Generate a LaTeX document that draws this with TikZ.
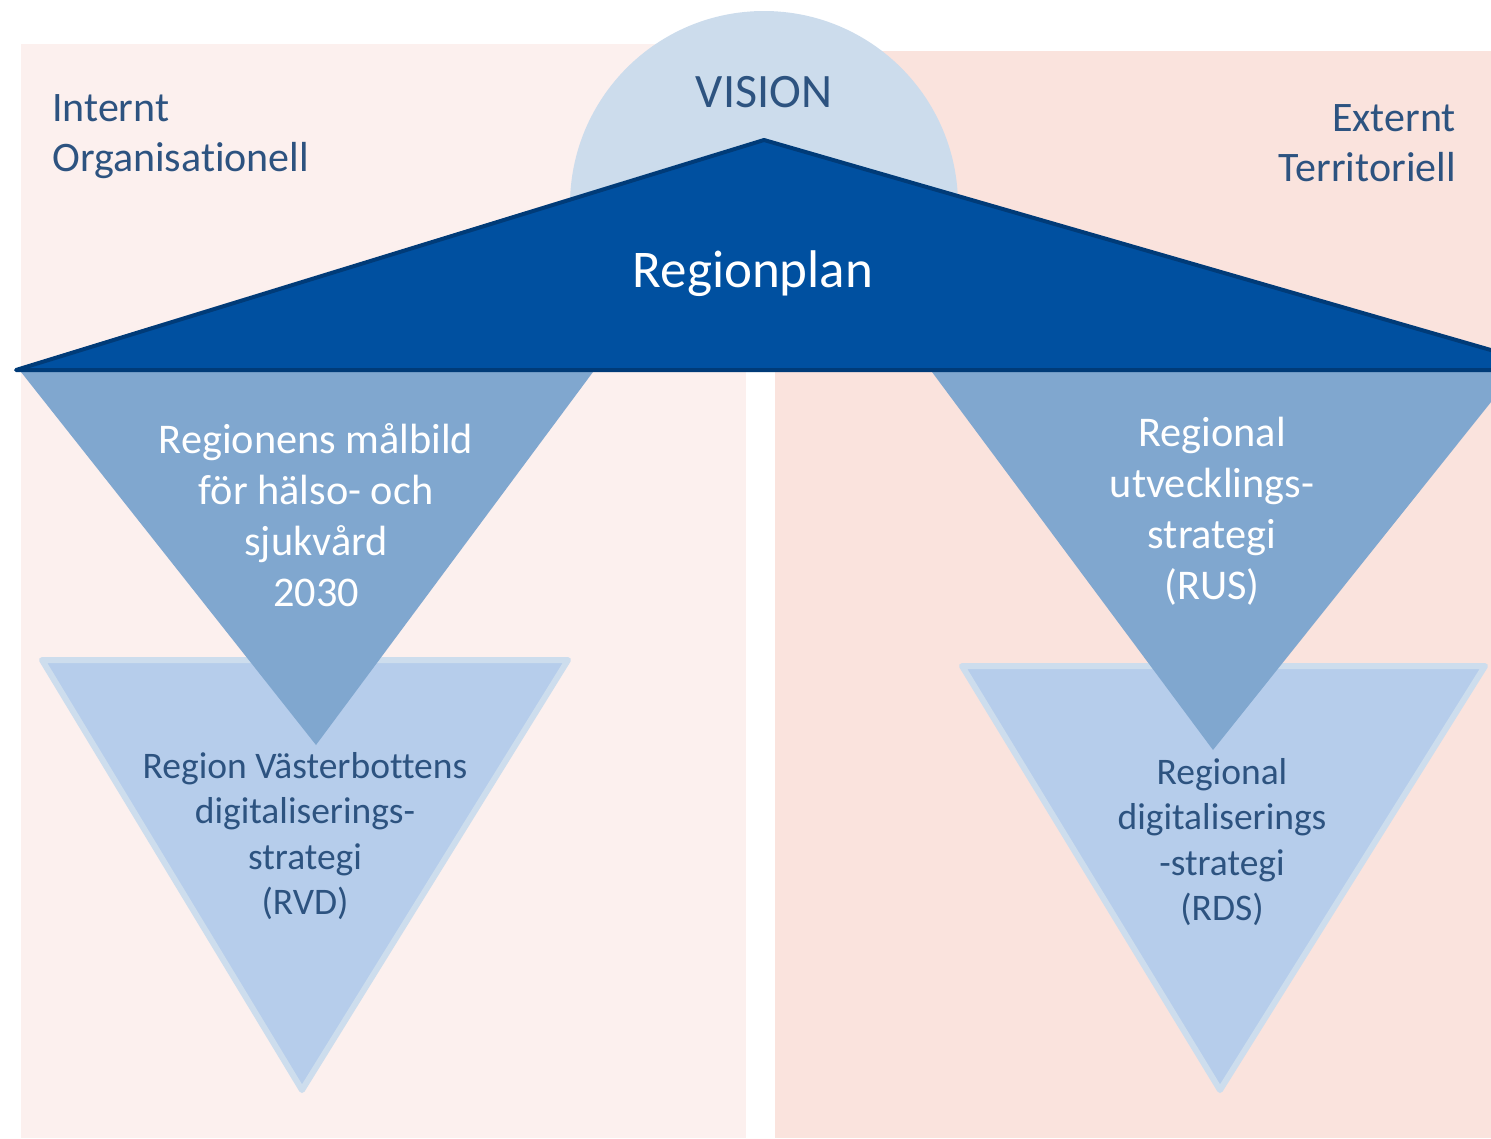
\documentclass[tikz,border=0pt]{standalone}
\usepackage{fontspec}
\setmainfont[Ligatures=CommonOff]{Carlito}
\definecolor{panelL}{HTML}{FCF0EE}
\definecolor{panelR}{HTML}{FAE3DD}
\definecolor{visionfill}{HTML}{CCDCEC}
\definecolor{planfill}{HTML}{0050A0}
\definecolor{planline}{HTML}{003B78}
\definecolor{upperfill}{HTML}{80A7CF}
\definecolor{lowerfill}{HTML}{B6CDEB}
\definecolor{lowerline}{HTML}{CDDDED}
\definecolor{darktext}{HTML}{2D5380}
\tikzset{
  panel/.style={draw=none},
  uppertri/.style={fill=upperfill, draw=none},
  lowertri/.style={fill=lowerfill, draw=lowerline, line width=6pt, line join=round},
  plantri/.style={fill=planfill, draw=planline, line width=4pt, line join=round, line cap=round},
  sidetext/.style={text=darktext, font=\fontsize{42}{50}\selectfont, inner sep=0pt},
  uppertext/.style={text=white, align=center, font=\fontsize{42.3}{51}\selectfont, inner sep=0pt},
  lowertext/.style={text=darktext, align=center, font=\fontsize{37.5}{45.5}\selectfont, inner sep=0pt}
}
\begin{document}
\begin{tikzpicture}[x=1pt,y=-1pt]
\useasboundingbox (0,0) rectangle (1491,1138);
\clip (0,0) rectangle (1491,1138);
% panels
\fill[panelL] (21,44) rectangle (746,1138);
\fill[panelR] (775,51) rectangle (1491,1138);
% vision half disc
\fill[visionfill] (570,205) arc (180:360:194) -- cycle;
% lower triangles
\draw[lowertri] (42,660) -- (568,660) -- (302,1090) -- cycle;
\draw[lowertri] (962,666) -- (1485,666) -- (1220,1090) -- cycle;
% upper triangles
\fill[uppertri] (21,372) -- (593,372) -- (316,745) -- cycle;
\fill[uppertri] (932,372) -- (1515,372) -- (1213,750) -- cycle;
% regionplan triangle
\draw[plantri] (16,370) -- (764,140) -- (1560,370) -- cycle;
% texts
\node[sidetext, anchor=base west, align=left] (intern) at (52,171) {Internt\\Organisationell};
\node[sidetext, anchor=base east, align=right] (extern) at (1456,181) {Externt\\Territoriell};
\node[text=darktext, font=\fontsize{48}{50}\selectfont, inner sep=0pt, anchor=base] (vision) at (764,107) {VISION};
\node[text=white, font=\fontsize{53}{60}\selectfont, inner sep=0pt, anchor=base] (plan) at (753,287) {Regionplan};
\node[uppertext] (malbild) at (316,515) {Regionens målbild\\för hälso- och\\sjukvård\\2030};
\node[uppertext] (rus) at (1212,511) {Regional\\utvecklings-\\strategi\\(RUS)};
\node[lowertext] (rvd) at (305,836) {Region Västerbottens\\digitaliserings-\\strategi\\(RVD)};
\node[lowertext] (rds) at (1222,842) {Regional\\digitaliserings\\-strategi\\(RDS)};
\end{tikzpicture}
\end{document}
